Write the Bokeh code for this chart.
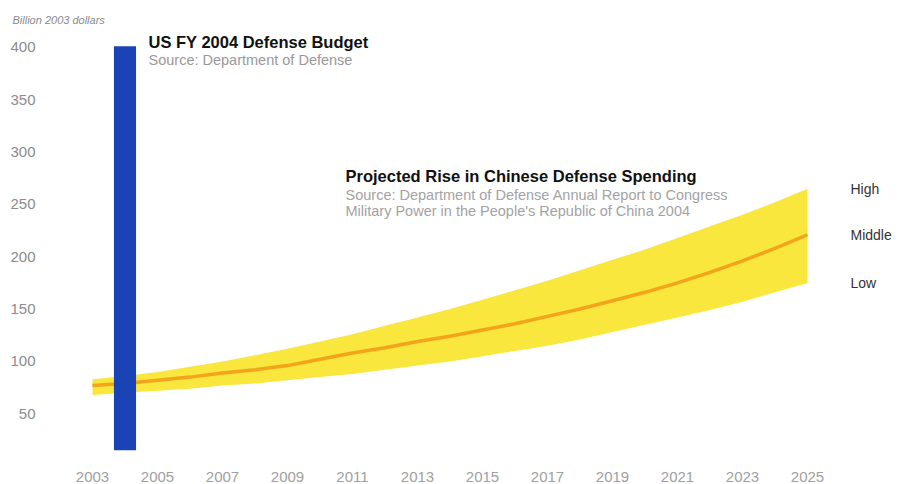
from bokeh.plotting import figure
from bokeh.models import Range1d, FixedTicker, Label, ColumnDataSource, Title
from bokeh.core.properties import value
from bokeh.embed import file_html
from bokeh.resources import INLINE

# ---- data ----
years = list(range(2003, 2026))
high = [83, 86, 90, 95, 100, 106, 112, 119, 126, 134, 142, 150, 159, 168, 177, 187, 197, 207, 218, 229, 240, 252, 265]
middle = [77, 79, 82, 85, 89, 92, 96, 102, 108, 113, 119, 124, 130, 136, 143, 150, 158, 166, 175, 185, 196, 208, 221]
low = [68, 70, 72, 74, 77, 79, 82, 85, 88, 92, 96, 100, 105, 110, 115, 121, 128, 135, 142, 149, 157, 166, 175]
us_year = [2004]
us_budget = [401]
x_ticks = list(range(2003, 2026, 2))
y_ticks = [50, 100, 150, 200, 250, 300, 350, 400]
scenario_labels = ["High", "Middle", "Low"]

FONT = "Liberation Sans"

p = figure(width=904, height=484, output_backend="svg", toolbar_location=None,
           x_range=Range1d(2001.708, 2027.985), y_range=Range1d(14.9, 416.1),
           min_border_left=50, min_border_right=0, min_border_top=30, min_border_bottom=31)
p.outline_line_color = None
p.grid.visible = False
p.background_fill_color = "white"
p.border_fill_color = "white"

p.title = Title(text="Billion 2003 dollars", align="left", offset=-38, standoff=9,
                text_font=FONT, text_font_size="11px", text_font_style="italic",
                text_color="#8a8a8a")

for ax in (p.xaxis[0], p.yaxis[0]):
    ax.axis_line_color = None
    ax.major_tick_line_color = None
    ax.minor_tick_line_color = None
    ax.major_label_text_font = FONT

p.xaxis.ticker = FixedTicker(ticks=x_ticks)
p.yaxis.ticker = FixedTicker(ticks=y_ticks)
p.xaxis.major_label_text_color = "#a0a0a0"
p.xaxis.major_label_text_font_size = "15px"
p.xaxis.major_label_standoff = 15
p.yaxis.major_label_text_color = "#8c8c8c"
p.yaxis.major_label_text_font_size = "15px"
p.yaxis.major_label_standoff = 9

src = ColumnDataSource(dict(x=years, high=high, middle=middle, low=low))
p.varea(x="x", y1="low", y2="high", source=src, fill_color="#f9e52c", fill_alpha=0.92)
p.line(x="x", y="middle", source=src, line_color="#f2a019", line_width=3.5, line_alpha=0.95)

p.vbar(x=us_year, top=us_budget, bottom=p.y_range.start, width=0.68,
       fill_color="#1a43b6", line_color=None)

# scenario labels at the ends of the series
ends = [high[-1], middle[-1], low[-1]]
p.text(x=[years[-1]] * 3, y=ends, text=scenario_labels, x_offset=43,
       text_font=value(FONT), text_font_size="14px", text_color="#333333",
       text_baseline="middle", text_align="left")

def add_label(x, y, text, size, color, style="normal"):
    p.add_layout(Label(x=x, y=y, text=text, x_units="screen", y_units="screen",
                       text_font=FONT, text_font_size=size, text_color=color,
                       text_font_style=style, text_baseline="middle"))

# screen coords relative to the frame (left=50, bottom=453)
def sx(px):
    return px - 50

def sy(py):
    return 453 - py

add_label(sx(148), sy(44), "US FY 2004 Defense Budget", "16.5px", "#111111", "bold")
add_label(sx(148), sy(62), "Source: Department of Defense", "14.5px", "#999999")
add_label(sx(345), sy(178), "Projected Rise in Chinese Defense Spending", "16.5px", "#111111", "bold")
add_label(sx(345), sy(197), "Source: Department of Defense Annual Report to Congress", "14.5px", "#a3a3a3")
add_label(sx(345), sy(213), "Military Power in the People's Republic of China 2004", "14.5px", "#a3a3a3")

open("out.html", "w").write(file_html(p, INLINE))
